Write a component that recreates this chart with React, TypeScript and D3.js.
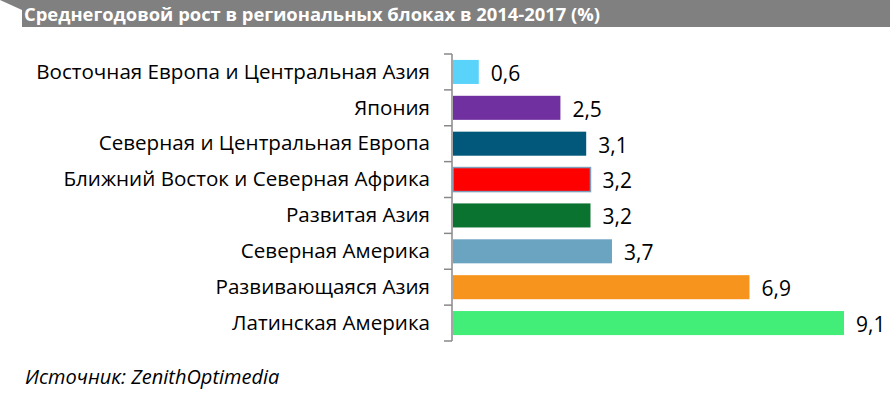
import React from 'react';
import * as d3 from 'd3';

// chart data
const categories = [
  'Восточная Европа и Центральная Азия',
  'Япония',
  'Северная и Центральная Европа',
  'Ближний Восток и Северная Африка',
  'Развитая Азия',
  'Северная Америка',
  'Развивающаяся Азия',
  'Латинская Америка',
];
const values = [0.6, 2.5, 3.1, 3.2, 3.2, 3.7, 6.9, 9.1];
const valueLabels = ['0,6', '2,5', '3,1', '3,2', '3,2', '3,7', '6,9', '9,1'];
const barColors = ['#5ad3fb', '#7030a0', '#01587a', '#ff0000', '#0b7330', '#6ba4c0', '#f7941d', '#43ee78'];

const title = 'Среднегодовой рост в региональных блоках в 2014-2017 (%)';
const source = 'Источник: ZenithOptimedia';

const W = 890;
const H = 399;
const FONT = '"Open Sans", "DejaVu Sans", sans-serif';

export default function App() {
  // scales
  const x = d3.scaleLinear().domain([0, 9.1]).range([453, 844]);
  const y = d3.scaleBand<string>()
    .domain(categories)
    .range([54, 341])
    .paddingInner(0.33)
    .paddingOuter(0.165);

  const step = y.step();
  const top = 54;
  const ticks = d3.range(categories.length + 1).map((i) => top + i * step);

  return (
    <svg width={W} height={H} style={{ position: 'fixed', left: 0, top: 0, background: '#fff' }}>
      {/* title bar */}
      <rect x={22} y={0} width={W - 22} height={27} fill="#808080" />
      <polygon points="0,0 22,0 22,10" fill="#808080" />
      <text x={24} y={21} fill="#fff" fontFamily={FONT} fontWeight="bold" fontSize={17}
        textLength={576} lengthAdjust="spacingAndGlyphs">{title}</text>

      {/* axis */}
      <line x1={452} x2={452} y1={top} y2={top + step * categories.length} stroke="#888" strokeWidth={1.5} />
      {ticks.map((t, i) => (
        <line key={`t${i}`} x1={444} x2={452} y1={t} y2={t} stroke="#888" strokeWidth={1.5} />
      ))}

      {/* bars */}
      {categories.map((c, i) => (
        <g key={c}>
          <rect
            x={x(0)}
            y={y(c)}
            width={x(values[i]) - x(0)}
            height={y.bandwidth()}
            fill={barColors[i]}
            stroke={i === 3 ? '#7f9db9' : 'none'}
            strokeWidth={i === 3 ? 1.5 : 0}
          />
          <text x={430} y={(y(c) as number) + y.bandwidth() / 2} dy="0.33em" textAnchor="end"
            fontFamily={FONT} fontSize={20.6} fill="#000">{c}</text>
          <text x={x(values[i]) + 12} y={(y(c) as number) + y.bandwidth() / 2} dy="0.42em"
            fontFamily={FONT} fontSize={21} fill="#000">{valueLabels[i]}</text>
        </g>
      ))}

      {/* source */}
      <text x={25} y={384} fontFamily={FONT} fontStyle="italic" fontSize={20} fill="#000">{source}</text>
    </svg>
  );
}
